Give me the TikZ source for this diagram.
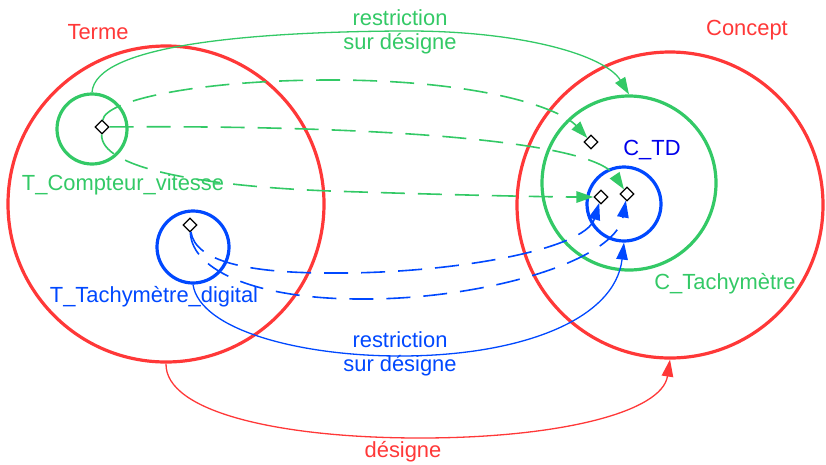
\documentclass[tikz,border=0pt]{standalone}
\usepackage{fontspec}
\setmainfont{Liberation Sans}
\usetikzlibrary{arrows.meta,shapes.geometric}
\definecolor{cred}{RGB}{255,56,56}
\definecolor{cgreen}{RGB}{51,201,102}
\definecolor{cblue}{RGB}{0,72,255}
\definecolor{cdblue}{RGB}{0,0,235}
\begin{document}
\begin{tikzpicture}[x=1pt,y=-1pt,
  ring/.style={circle,draw,line width=3.2pt,minimum size=#1,inner sep=0pt},
  dia/.style={diamond,draw=black,fill=white,line width=1.3pt,minimum size=14pt,inner sep=0pt},
  conn/.style={line width=1.3pt,-{Triangle[length=17pt,width=11.5pt]}},
  dashconn/.style={conn,line width=1.6pt,dash pattern=on 24pt off 13pt},
  lbl/.style={font=\fontsize{21.9}{24}\selectfont,inner sep=0pt,align=center}]
\useasboundingbox (0,0) rectangle (826,464);
% rings
\node[ring=316pt,draw=cred] (terme) at (166,204) {};
\node[ring=306pt,draw=cred] (concept) at (670,205) {};
\node[ring=174pt,draw=cgreen] (ctach) at (629,183) {};
\node[ring=74pt,draw=cblue] (ctd) at (624,204) {};
\node[ring=70pt,draw=cgreen] (tcv) at (92,129) {};
\node[ring=72pt,draw=cblue] (ttd) at (193,247) {};
% diamonds
\node[dia] (dtcv) at (102,127) {};
\node[dia] (dttd) at (190,225) {};
\node[dia] (dup) at (591,142) {};
\node[dia] (dl) at (601,197) {};
\node[dia] (dr) at (627,194) {};
% labels
\node[lbl,text=cred] (lterme) at (98,32) {Terme};
\node[lbl,text=cred] (lconcept) at (747,30) {Concept};
\node[lbl,text=cgreen] (ltcv) at (123,185) {T\_Compteur\_vitesse};
\node[lbl,text=cblue] (lttd) at (154,297) {T\_Tachymètre\_digital};
\node[lbl,text=cgreen] (lctach) at (725,284) {C\_Tachymètre};
\node[lbl,text=cdblue] (lctd) at (652,150) {C\_TD};
\node[lbl,text=cgreen] (lrg) at (400,32) {restriction\\sur désigne};
\node[lbl,text=cblue] (lrb) at (400,354) {restriction\\sur désigne};
\node[lbl,text=cred] (ldes) at (403,452) {désigne};
% green connectors
\draw[conn,draw=cgreen] (tcv.north) .. controls (95,45) and (250,32) .. (400,31)
  .. controls (520,30) and (605,55) .. (ctach.north);
\draw[dashconn,draw=cgreen] (dtcv) .. controls (105,100) and (200,80) .. (330,80)
  .. controls (480,80) and (560,108) .. (dup);
\draw[dashconn,draw=cgreen] (dtcv) .. controls (350,125) and (590,138) .. (dr);
\draw[dashconn,draw=cgreen] (dtcv) .. controls (100,168) and (200,186) .. (330,191)
  .. controls (450,195) and (550,197) .. (dl);
% blue connectors
\draw[dashconn,draw=cblue] (dttd) .. controls (195,262) and (250,273) .. (330,273)
  .. controls (450,274) and (585,250) .. (dl);
\draw[dashconn,draw=cblue] (dttd) .. controls (192,272) and (260,299) .. (360,299)
  .. controls (480,300) and (615,262) .. (dr);
\draw[conn,draw=cblue] (ttd.south) .. controls (200,330) and (300,356) .. (400,356)
  .. controls (520,356) and (615,320) .. (ctd.south);
% red connector
\draw[conn,draw=cred] (terme.south) .. controls (165,412) and (280,438) .. (420,438)
  .. controls (560,438) and (662,412) .. (concept.south);
\end{tikzpicture}
\end{document}
